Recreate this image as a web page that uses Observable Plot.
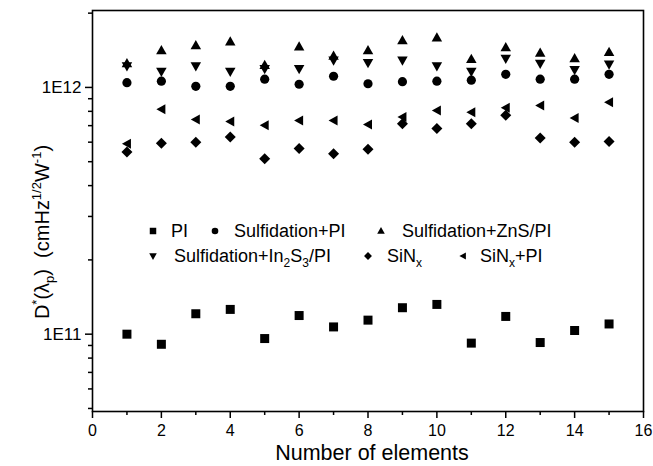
<!DOCTYPE html>
<html><head><meta charset="utf-8">
<script src="https://cdn.jsdelivr.net/npm/d3@7"></script>
<script src="https://cdn.jsdelivr.net/npm/@observablehq/plot@0.6"></script>
<style>
body{margin:0;background:#fff;font-family:"Liberation Sans",Arial,sans-serif;}
#wrap{position:relative;width:653px;height:466px;overflow:hidden;}
.lg{position:absolute;font-size:18px;line-height:18px;color:#000;white-space:nowrap;transform:translateY(-50%);}
.lg sub{font-size:12px;vertical-align:-5px;line-height:0;}
.mk{position:absolute;transform:translate(-50%,-50%);}
</style></head><body><div id="wrap"></div>
<script>
// ---- data ----
const elements = [1,2,3,4,5,6,7,8,9,10,11,12,13,14,15];
const PI      = [1.00e11,9.1e10,1.21e11,1.26e11,9.6e10,1.19e11,1.07e11,1.14e11,1.28e11,1.32e11,9.2e10,1.18e11,9.25e10,1.035e11,1.10e11];
const sulfPI  = [1.045e12,1.06e12,1.01e12,1.01e12,1.08e12,1.03e12,1.11e12,1.035e12,1.055e12,1.06e12,1.07e12,1.13e12,1.08e12,1.08e12,1.13e12];
const sulfZnS = [1.25e12,1.41e12,1.48e12,1.53e12,1.23e12,1.46e12,1.34e12,1.41e12,1.55e12,1.59e12,1.30e12,1.45e12,1.38e12,1.31e12,1.39e12];
const sulfIn2S3 = [1.22e12,1.16e12,1.22e12,1.16e12,1.19e12,1.19e12,1.29e12,1.26e12,1.29e12,1.22e12,1.16e12,1.31e12,1.25e12,1.18e12,1.24e12];
const SiNx    = [5.47e11,5.94e11,6.0e11,6.29e11,5.14e11,5.65e11,5.39e11,5.61e11,7.13e11,6.81e11,7.13e11,7.71e11,6.24e11,6.0e11,6.04e11];
const SiNxPI  = [5.91e11,8.15e11,7.41e11,7.28e11,7.02e11,7.35e11,7.35e11,7.08e11,7.59e11,8.07e11,7.94e11,8.27e11,8.45e11,7.51e11,8.71e11];
const yMajor = [1e11, 1e12];
const yMajorLabels = ["1E11", "1E12"];
const xMajor = [0,2,4,6,8,10,12,14,16];
const xMinor = [1,3,5,7,9,11,13,15];

// ---- custom symbols ----
const R = s => Math.sqrt(s/Math.PI);
const symSquare = {draw(c,s){const h=R(s)*0.9;c.rect(-h,-h,2*h,2*h);}};
const symCircle = {draw(c,s){const h=R(s)*0.92;c.moveTo(h,0);c.arc(0,0,h,0,2*Math.PI);}};
const symUp = {draw(c,s){const r=R(s);c.moveTo(0,-1.1*r);c.lineTo(1.05*r,0.75*r);c.lineTo(-1.05*r,0.75*r);c.closePath();}};
const symDown = {draw(c,s){const r=R(s);c.moveTo(0,1.1*r);c.lineTo(1.05*r,-0.75*r);c.lineTo(-1.05*r,-0.75*r);c.closePath();}};
const symDiamond = {draw(c,s){const r=R(s)*1.1;c.moveTo(0,-r);c.lineTo(r,0);c.lineTo(0,r);c.lineTo(-r,0);c.closePath();}};
const symLeft = {draw(c,s){const r=R(s);c.moveTo(-1.0*r,0);c.lineTo(0.8*r,-1.0*r);c.lineTo(0.8*r,1.0*r);c.closePath();}};

const series = [
  {vals: PI, sym: symSquare},
  {vals: sulfPI, sym: symCircle},
  {vals: sulfZnS, sym: symUp},
  {vals: sulfIn2S3, sym: symDown},
  {vals: SiNx, sym: symDiamond},
  {vals: SiNxPI, sym: symLeft}
];

const yMinor = [];
for (const dec of [1e10, 1e11, 1e12]) for (let k=2;k<=9;k++){const v=k*dec; if (v>=4.86e10 && v<=2.05e12) yMinor.push(v);}

const marks = [];
series.forEach(s => {
  marks.push(Plot.dot(elements.map((x,i)=>({x, y:s.vals[i]})), {x:"x", y:"y", symbol: s.sym, r:5, fill:"black", stroke:"none"}));
});
marks.push(Plot.axisY(yMinor, {tickSize:4, text:null, strokeWidth:1.5}));
marks.push(Plot.axisY(yMajor, {tickSize:7, tickPadding:4, strokeWidth:1.5, tickFormat: d => yMajorLabels[yMajor.indexOf(d)], fontSize:17, label:null}));
marks.push(Plot.axisX(xMinor, {tickSize:4, text:null, strokeWidth:1.5, label:null}));
marks.push(Plot.axisX(xMajor, {tickSize:7, tickPadding:6, strokeWidth:1.5, fontSize:16, label:null}));
marks.push(Plot.frame({stroke:"black", strokeWidth:1.6}));

const chart = Plot.plot({
  width:653, height:466,
  marginLeft:92, marginRight:10, marginTop:10, marginBottom:55,
  style:{fontFamily:"Liberation Sans, Arial, sans-serif", fontSize:"17px", color:"black", background:"white"},
  x:{domain:[0,16], label:null},
  y:{type:"log", domain:[4.86e10, 2.05e12], label:null},
  marks
});
const wrap = document.getElementById("wrap");
wrap.appendChild(chart);

// axis titles
const svg = d3.select(chart);
svg.append("text").attr("x", 372).attr("y", 460).attr("text-anchor","middle")
  .attr("font-size", 21.5).attr("fill","black").text("Number of elements");
const yl = svg.append("text").attr("transform","translate(49,232) rotate(-90)")
  .attr("text-anchor","middle").attr("font-size",20).attr("fill","black");
yl.append("tspan").text("D");
yl.append("tspan").attr("dy",-8).attr("font-size",13).text("*");
yl.append("tspan").attr("dy",8).text("(λ");
yl.append("tspan").attr("dy",5).attr("font-size",13).text("p");
yl.append("tspan").attr("dy",-5).text(")\u00a0\u00a0(cmHz");
yl.append("tspan").attr("dy",-8).attr("font-size",13).text("1/2");
yl.append("tspan").attr("dy",8).text("W");
yl.append("tspan").attr("dy",-8).attr("font-size",13).text("-1");
yl.append("tspan").attr("dy",8).text(")");

// legend
const legendItems = [
  {sym: symSquare, mx:153, my:231, tx:171, html:"PI"},
  {sym: symCircle, mx:215, my:231, tx:234, html:"Sulfidation+PI"},
  {sym: symUp, mx:381, my:231, tx:402, html:"Sulfidation+ZnS/PI"},
  {sym: symDown, mx:153, my:256, tx:174, html:"Sulfidation+In<sub>2</sub>S<sub>3</sub>/PI"},
  {sym: symDiamond, mx:368, my:256, tx:387, html:"SiN<sub>x</sub>"},
  {sym: symLeft, mx:463, my:256, tx:480, html:"SiN<sub>x</sub>+PI"}
];
legendItems.forEach(it => {
  const p = d3.symbol().type(it.sym).size(Math.PI*3.6*3.6)();
  const m = document.createElement("div");
  m.className = "mk"; m.style.left = it.mx+"px"; m.style.top = it.my+"px";
  m.innerHTML = `<svg width="14" height="14" viewBox="-7 -7 14 14" style="display:block"><path d="${p}" fill="black"/></svg>`;
  wrap.appendChild(m);
  const t = document.createElement("div");
  t.className = "lg"; t.style.left = it.tx+"px"; t.style.top = it.my+"px";
  t.innerHTML = it.html;
  wrap.appendChild(t);
});
</script></body></html>
